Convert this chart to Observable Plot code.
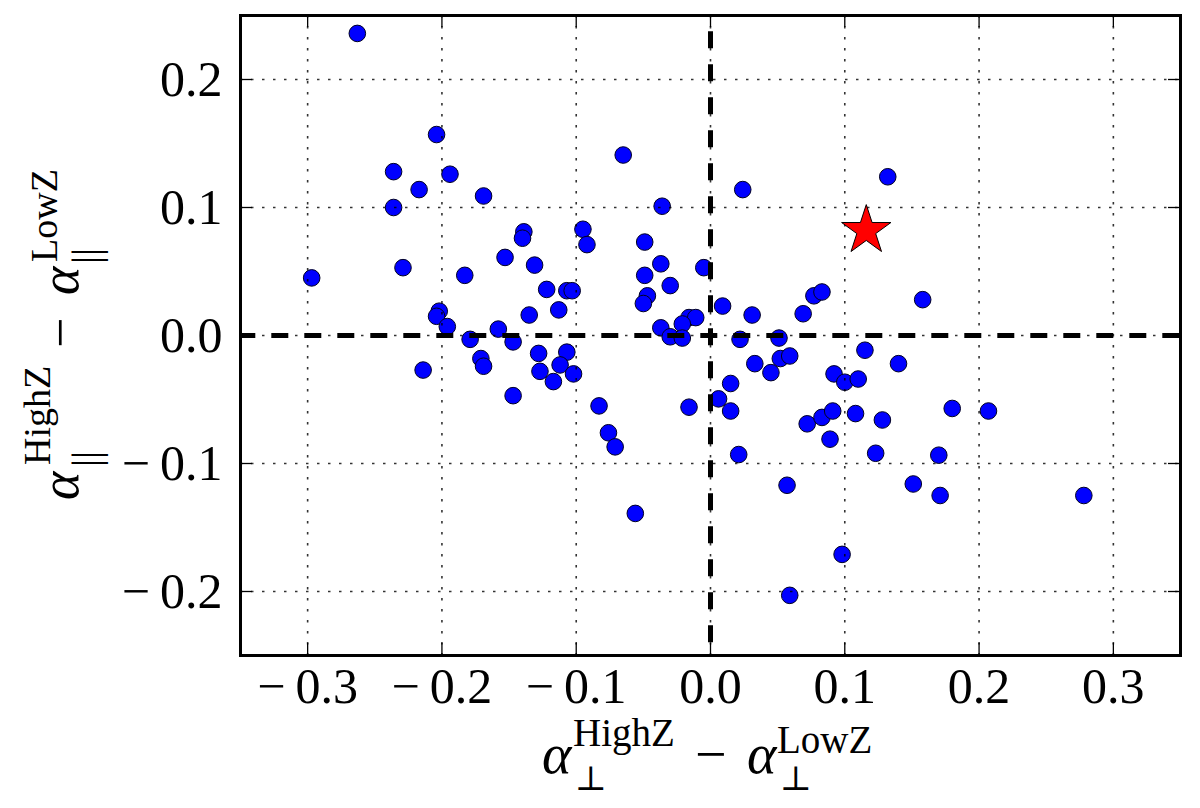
<!DOCTYPE html>
<html>
<head>
<meta charset="utf-8">
<script src="https://cdn.jsdelivr.net/npm/d3@7"></script>
<script src="https://cdn.jsdelivr.net/npm/@observablehq/plot@0.6"></script>
<style>
  html, body { margin: 0; padding: 0; background: #fff; }
  #chart svg { display: block; }
</style>
</head>
<body>
<div id="chart"></div>
<script>
// alpha_perp(HighZ) - alpha_perp(LowZ)
const dPerp = [
  -0.263, -0.204, -0.236, -0.194, -0.217, -0.169, -0.236, -0.139, -0.140, -0.153,
  -0.131, -0.229, -0.183, -0.297, -0.122, -0.107, -0.103, -0.113, -0.202, -0.204,
  -0.196, -0.135, -0.158, -0.179, -0.147,
  -0.065, 0.024, -0.036, -0.095, -0.092, -0.049, -0.037, -0.005, -0.049, -0.030,
  -0.047, -0.050, 0.009, 0.031, 0.069, 0.077, 0.083, -0.016, -0.011, -0.021,
  -0.037, -0.030, -0.021, 0.022, 0.051,
  0.132, 0.158,
  -0.171, -0.169, -0.214, -0.147, -0.128, -0.127, -0.117, -0.107, -0.112, -0.102,
  -0.083, -0.076, -0.071, -0.056, -0.016, 0.015, 0.006, 0.015, 0.021, 0.033,
  0.045, 0.052, 0.059, 0.057, 0.059, 0.092, 0.100, 0.110, 0.115, 0.072,
  0.083, 0.091, 0.089, 0.108, 0.098, 0.140, 0.128, 0.123, 0.180, 0.207,
  0.170, 0.151, 0.171, 0.278
];
// alpha_par(HighZ) - alpha_par(LowZ)
const dPar = [
  0.236, 0.157, 0.128, 0.126, 0.114, 0.109, 0.100, 0.081, 0.076, 0.061,
  0.055, 0.053, 0.047, 0.045, 0.036, 0.035, 0.035, 0.020, 0.019, 0.015,
  0.007, 0.016, 0.005, -0.003, -0.005,
  0.141, 0.114, 0.101, 0.083, 0.071, 0.073, 0.056, 0.053, 0.047, 0.039,
  0.031, 0.025, 0.023, 0.016, 0.017, 0.031, 0.034, 0.014, 0.014, 0.009,
  0.006, -0.001, -0.002, -0.003, -0.002,
  0.124, 0.028,
  -0.018, -0.024, -0.027, -0.047, -0.014, -0.028, -0.036, -0.013, -0.023, -0.030,
  -0.055, -0.076, -0.087, -0.139, -0.056, -0.0375, -0.0495, -0.059, -0.093, -0.022,
  -0.029, -0.018, -0.016, -0.117, -0.203, -0.030, -0.0365, -0.034, -0.0115, -0.069,
  -0.064, -0.059, -0.081, -0.061, -0.171, -0.022, -0.066, -0.092, -0.057, -0.059,
  -0.0935, -0.116, -0.125, -0.125
];
// highlighted measurement (red star)
const starPerp = [0.116];
const starPar = [0.082];

const xTicks = [-0.3, -0.2, -0.1, 0.0, 0.1, 0.2, 0.3];
const yTicks = [-0.2, -0.1, 0.0, 0.1, 0.2];

const points = dPerp.map((x, i) => ({x, y: dPar[i]}));
const star = starPerp.map((x, i) => ({x, y: starPar[i]}));

const fmt = d => {
  const s = Math.abs(d).toFixed(1);
  return d < -1e-9 ? "\u2212\u2009" + s : s;
};

const W = 1200, H = 808;
const mT = 15, mR = 20, mB = 153, mL = 240;
const frameH = H - mT - mB, frameW = W - mL - mR;
const tickLen = 12;
const serif = "'Liberation Serif', 'DejaVu Serif', serif";

const chart = Plot.plot({
  width: W, height: H,
  marginTop: mT, marginRight: mR, marginBottom: mB, marginLeft: mL,
  style: {fontFamily: serif, background: "#fff", color: "#000"},
  x: {domain: [-0.35, 0.35]},
  y: {domain: [-0.25, 0.25]},
  marks: [
    Plot.dot(points, {x: "x", y: "y", r: 8.3, fill: "#0000ff", stroke: "#000022", strokeWidth: 1}),
    Plot.gridX(xTicks, {stroke: "#000", strokeOpacity: 0.8, strokeWidth: 1.6, strokeDasharray: "2.5,8.5"}),
    Plot.gridY(yTicks, {stroke: "#000", strokeOpacity: 0.8, strokeWidth: 1.6, strokeDasharray: "2.5,8.5"}),
    Plot.ruleY([0], {stroke: "#000", strokeWidth: 5, strokeDasharray: "17,16", strokeDashoffset: 1.7}),
    Plot.ruleX([0], {stroke: "#000", strokeWidth: 5, strokeDasharray: "17,16", strokeDashoffset: 16.7}),
    Plot.dot(star, {x: "x", y: "y", symbol: "star", r: 15.5, fill: "#ff0000", stroke: "#000", strokeWidth: 1}),
    // inward ticks on all four sides
    Plot.tickX(xTicks, {x: d => d, insetTop: frameH - tickLen, stroke: "#000", strokeWidth: 1.3}),
    Plot.tickX(xTicks, {x: d => d, insetBottom: frameH - tickLen, stroke: "#000", strokeWidth: 1.3}),
    Plot.tickY(yTicks, {y: d => d, insetRight: frameW - tickLen, stroke: "#000", strokeWidth: 1.3}),
    Plot.tickY(yTicks, {y: d => d, insetLeft: frameW - tickLen, stroke: "#000", strokeWidth: 1.3}),
    Plot.axisX(xTicks, {tickSize: 0, tickPadding: 12, fontSize: 50, fontFamily: serif, tickFormat: fmt, label: null, fill: "#000"}),
    Plot.axisY(yTicks, {tickSize: 0, tickPadding: 18, fontSize: 50, fontFamily: serif, tickFormat: fmt, label: null, fill: "#000"}),
    Plot.frame({stroke: "#000", strokeWidth: 3})
  ]
});
document.getElementById("chart").appendChild(chart);

// axis titles (math-style labels)
const svg = d3.select(chart);
function put(g, txt, x, y, size, opt = {}) {
  g.append("text")
    .attr("x", x).attr("y", y)
    .attr("text-anchor", "start")
    .attr("font-size", size)
    .attr("font-family", opt.family || serif)
    .attr("font-style", opt.italic ? "italic" : "normal")
    .attr("fill", "#000")
    .text(txt);
}
const gx = svg.append("g");
put(gx, "\u03b1", 542, 773, 56, {italic: true});
put(gx, "HighZ", 573, 746, 39);
put(gx, "\u22a5", 575, 790, 34, {family: "'DejaVu Serif', serif"});
put(gx, "\u2212", 695, 773, 56);
put(gx, "\u03b1", 747, 773, 56, {italic: true});
put(gx, "LowZ", 777, 753, 39);
put(gx, "\u22a5", 780, 790, 34, {family: "'DejaVu Serif', serif"});

const gy = svg.append("g").attr("transform", "translate(78,500) rotate(-90)");
put(gy, "\u03b1", 0, 0, 54, {italic: true});
put(gy, "HighZ", 35, -28, 38);
put(gy, "||", 33, 21, 40);
put(gy, "\u2212", 152, 0, 54);
put(gy, "\u03b1", 205, 0, 54, {italic: true});
put(gy, "LowZ", 238, -21, 38);
put(gy, "||", 236, 21, 40);
</script>
</body>
</html>
